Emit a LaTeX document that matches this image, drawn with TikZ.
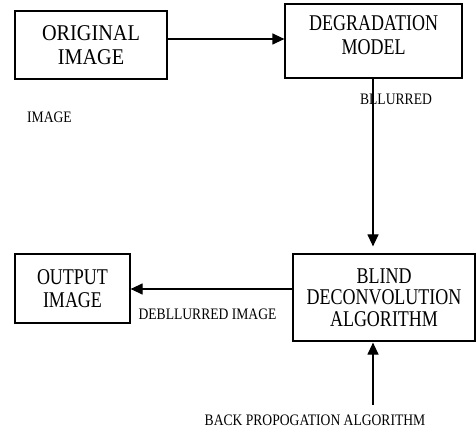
\documentclass[tikz,border=0pt]{standalone}
\usepackage{fontspec}
\setmainfont{Liberation Serif}
\newfontfamily\condfont[FakeStretch=0.85]{Liberation Serif}
\newfontfamily\origfont[FakeStretch=0.9]{Liberation Serif}
\newfontfamily\narrowfont[FakeStretch=0.8]{Liberation Serif}
\usetikzlibrary{arrows.meta}
\begin{document}
\begin{tikzpicture}[x=1pt,y=-1pt,
  box/.style={draw,line width=1.2pt,inner sep=0pt,align=center,font=\narrowfont\fontsize{22.5}{24.5}\selectfont},
  lbl/.style={inner sep=0pt,font=\condfont\fontsize{16}{18}\selectfont},
  arr/.style={line width=1.2pt,-{Triangle[length=12pt,width=11pt]}}]
\useasboundingbox (0,0) rectangle (476,430);
\node[box,minimum width=152pt,minimum height=68pt,font=\origfont\fontsize{22.5}{24.5}\selectfont] (orig) at (91,45) {ORIGINAL\\IMAGE};
\node[box,minimum width=177pt,minimum height=74pt,text depth=12pt] (degr) at (373.5,41) {DEGRADATION\\MODEL};
\node[box,minimum width=182pt,minimum height=87pt,font=\narrowfont\fontsize{22.5}{21.5}\selectfont] (blind) at (384,297.5) {BLIND\\DECONVOLUTION\\ALGORITHM};
\node[box,minimum width=115pt,minimum height=69pt,font=\narrowfont\fontsize{22.5}{23}\selectfont] (out) at (72.5,288.5) {OUTPUT\\IMAGE};
\node[lbl] (l1) at (396,99) {BLLURRED};
\node[lbl] (l2) at (49.5,117) {IMAGE};
\node[lbl] (l3) at (207.5,314) {DEBLLURRED IMAGE};
\node[lbl] (l4) at (315,420) {BACK PROPOGATION ALGORITHM};
\coordinate (bp) at (373,405);
\draw[arr] ([yshift=6pt]orig.east) -- ([yshift=6pt]orig.east -| degr.west);
\draw[arr,shorten >=7pt] ([xshift=-0.5pt]degr.south) -- ([xshift=-0.5pt]degr.south |- blind.north);
\draw[arr] ([yshift=8.5pt]blind.west) -- ([yshift=8.5pt]blind.west -| out.east);
\draw[arr,shorten >=1pt] (bp) -- (bp |- blind.south);
\end{tikzpicture}
\end{document}
